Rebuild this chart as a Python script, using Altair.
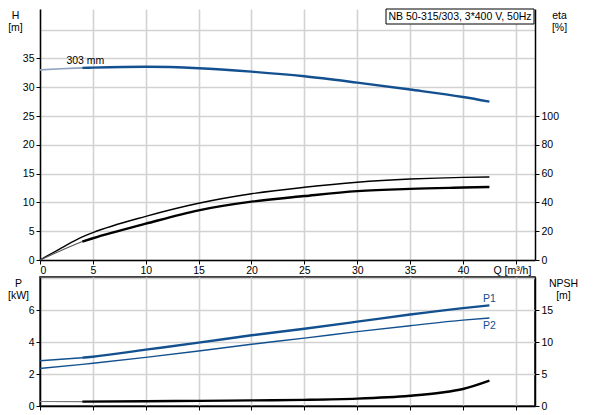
import altair as alt
import pandas as pd

# ---------------- data ----------------
# Q-H curve, impeller 303 mm
q_h = [0, 2, 4, 5, 10, 15, 20, 25, 30, 35, 40, 42.5]
h_303 = [33.0, 33.2, 33.35, 33.4, 33.55, 33.3, 32.7, 31.9, 30.8, 29.6, 28.3, 27.5]

# efficiency curves
q_eta = [0, 2, 4, 5, 10, 15, 20, 25, 30, 35, 40, 42.5]
eta_pump = [0, 8.3, 16, 19, 30.3, 39.4, 46, 50.5, 54, 56.2, 57.4, 57.6]
eta_total = [0, 6.6, 12.8, 15.1, 25.2, 34.5, 40.5, 44.4, 47.8, 49.4, 50.3, 50.7]

# power curves
q_p = [0, 4, 5, 10, 15, 20, 25, 30, 35, 40, 42.5]
p1 = [2.83, 3.02, 3.08, 3.52, 3.96, 4.42, 4.83, 5.27, 5.72, 6.12, 6.29]
p2 = [2.35, 2.6, 2.67, 3.04, 3.44, 3.86, 4.24, 4.65, 5.02, 5.37, 5.5]

# NPSH curve
q_npsh = [0, 4, 10, 15, 20, 25, 30, 35, 38, 40, 42.5]
npsh = [0.7, 0.68, 0.75, 0.8, 0.88, 0.96, 1.15, 1.6, 2.1, 2.66, 3.96]

# labels
label_303 = ("303 mm", 2.5, 33.6)
label_p1 = ("P1", 41.9, 6.66)
label_p2 = ("P2", 41.9, 5.03)
title_text = "NB 50-315/303, 3*400 V, 50Hz"

# ticks
x_ticks = [0, 5, 10, 15, 20, 25, 30, 35, 40, 45]
h_ticks = [0, 5, 10, 15, 20, 25, 30, 35, 40]
eta_ticks = [0, 20, 40, 60, 80, 100]
p_ticks = [0, 2, 4, 6, 8]
npsh_ticks = [0, 5, 10, 15]

# ---------------- layout constants ----------------
W = 495
H_TOP = 251
H_BOT = 129
X_MAX = 46.81
H_MAX = H_TOP / 5.76
ETA_MAX = H_MAX * 4
P_MAX = H_BOT / 16.0
NPSH_MAX = P_MAX * 2.5

BLUE = "#13508f"
BLUE_THIN = "#8fa3bf"
GRID = "#d2d2d2"
FONT = "Liberation Sans"


def seg(q, v, lo, hi):
    qs = [a for a in q if lo <= a <= hi]
    vs = [b for a, b in zip(q, v) if lo <= a <= hi]
    return pd.DataFrame({"q": qs, "v": vs})


def xenc(labels=True):
    return alt.X(
        "q:Q",
        scale=alt.Scale(domain=[0, X_MAX], nice=False, zero=False),
        axis=alt.Axis(
            values=x_ticks,
            grid=True,
            labels=labels,
            labelExpr="datum.value == 45 ? 'Q [m³/h]' : datum.label",
            labelOffset={"condition": {"test": "datum.value == 45", "value": -4}, "value": 0},
            title=None,
            tickSize=4,
            labelPadding=1,
        ),
    )


h_axis = alt.Axis(
    values=h_ticks,
    grid=True,
    labelExpr="datum.value > 35 ? '' : datum.label",
    tickOpacity={"condition": {"test": "datum.value > 35", "value": 0}, "value": 1},
    title=["H", "[m]"],
    titleAngle=0,
    titleAlign="center",
    titleBaseline="top",
    titleX=-25,
    titleY=1,
    tickSize=4,
    labelPadding=2,
)
eta_axis = alt.Axis(
    values=eta_ticks,
    orient="right",
    grid=False,
    title=["eta", "[%]"],
    titleAngle=0,
    titleAlign="center",
    titleBaseline="top",
    titleX=24,
    titleY=1,
    tickSize=4,
    labelPadding=2,
)
p_axis = alt.Axis(
    values=p_ticks,
    grid=True,
    labelExpr="datum.value > 7 ? '' : datum.label",
    tickOpacity={"condition": {"test": "datum.value > 7", "value": 0}, "value": 1},
    title=["P", "[kW]"],
    titleAngle=0,
    titleAlign="center",
    titleBaseline="top",
    titleX=-22,
    titleY=1,
    tickSize=4,
    labelPadding=2,
)
npsh_axis = alt.Axis(
    values=npsh_ticks,
    orient="right",
    grid=False,
    title=["NPSH", "[m]"],
    titleAngle=0,
    titleAlign="center",
    titleBaseline="top",
    titleX=28,
    titleY=1,
    tickSize=4,
    labelPadding=2,
)


def yenc(maxv, axis):
    return alt.Y("v:Q", scale=alt.Scale(domain=[0, maxv], nice=False, zero=False), axis=axis)


def line(df, color, width, maxv, axis, labels=True):
    return (
        alt.Chart(df)
        .mark_line(color=color, strokeWidth=width, interpolate="monotone")
        .encode(x=xenc(labels), y=yenc(maxv, axis))
    )


def label(item, color, maxv, axis, baseline, labels=True):
    df = pd.DataFrame({"q": [item[1]], "v": [item[2]], "t": [item[0]]})
    return (
        alt.Chart(df)
        .mark_text(align="left", baseline=baseline, color=color, font=FONT, fontSize=10.5)
        .encode(x=xenc(labels), y=yenc(maxv, axis), text="t:N")
    )


# ---------------- top panel ----------------
h_group = alt.layer(
    line(seg(q_h, h_303, 0, 4), BLUE_THIN, 1.6, H_MAX, h_axis),
    line(seg(q_h, h_303, 4, 50), BLUE, 2.4, H_MAX, h_axis),
    label(label_303, "#000000", H_MAX, h_axis, "bottom"),
)
eta_group = alt.layer(
    line(seg(q_eta, eta_pump, 0, 50), "#000000", 1.4, ETA_MAX, eta_axis),
    line(seg(q_eta, eta_total, 0, 4), "#555555", 1.2, ETA_MAX, eta_axis),
    line(seg(q_eta, eta_total, 4, 50), "#000000", 2.4, ETA_MAX, eta_axis),
)
box_df = pd.DataFrame({"t": [title_text]})
box = alt.Chart(box_df).mark_rect(fill="white", stroke="#000000", strokeWidth=1).encode(
    x=alt.value(346), x2=alt.value(494), y=alt.value(0), y2=alt.value(15)
)
box_text = alt.Chart(box_df).mark_text(
    align="center", baseline="middle", font=FONT, fontSize=10.5, color="#000000"
).encode(x=alt.value(420), y=alt.value(8), text="t:N")

top = (
    alt.layer(h_group, eta_group, box, box_text)
    .resolve_scale(y="independent")
    .properties(width=W, height=H_TOP, view=alt.ViewBackground(stroke="transparent"))
)

# ---------------- bottom panel ----------------
p_group = alt.layer(
    line(seg(q_p, p1, 0, 4), BLUE, 1.6, P_MAX, p_axis, False),
    line(seg(q_p, p1, 4, 50), BLUE, 2.4, P_MAX, p_axis, False),
    line(seg(q_p, p2, 0, 50), BLUE, 1.4, P_MAX, p_axis, False),
    label(label_p1, BLUE, P_MAX, p_axis, "middle", False),
    label(label_p2, BLUE, P_MAX, p_axis, "middle", False),
)
npsh_group = alt.layer(
    line(seg(q_npsh, npsh, 0, 4), "#777777", 1.2, NPSH_MAX, npsh_axis, False),
    line(seg(q_npsh, npsh, 4, 50), "#000000", 2.4, NPSH_MAX, npsh_axis, False),
)
bottom = (
    alt.layer(p_group, npsh_group)
    .resolve_scale(y="independent")
    .properties(width=W, height=H_BOT, view=alt.ViewBackground(stroke="#000000", strokeWidth=1.5))
)

chart = (
    alt.vconcat(top, bottom, spacing=0)
    .properties(padding={"left": -2, "top": 0, "right": 0, "bottom": 0})
    .configure_axis(
        labelFont=FONT,
        labelFontSize=10.5,
        labelColor="#000000",
        titleFont=FONT,
        titleFontSize=10.5,
        titleFontWeight="normal",
        titleColor="#000000",
        titleLineHeight=12,
        domainColor="#000000",
        domainWidth=1.5,
        tickColor="#000000",
        tickWidth=1,
        gridColor=GRID,
        gridWidth=1.6,
    )
)

chart.save("out.html", embed_options={"renderer": "svg", "actions": False})
